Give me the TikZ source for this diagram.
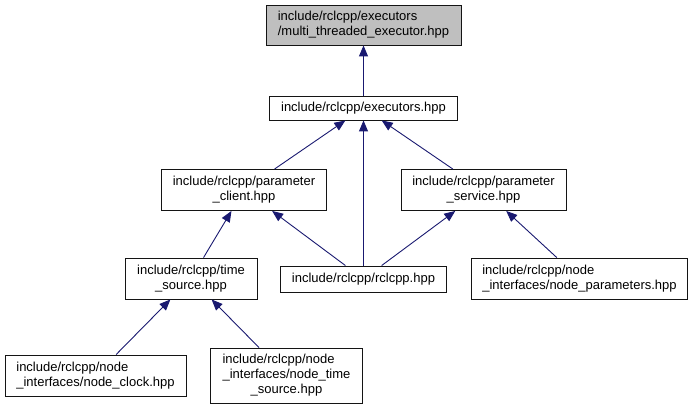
\documentclass[tikz,border=0pt]{standalone}
\usepackage{fontspec}
\setmainfont{Liberation Sans}
\usepackage{xcolor}
\usetikzlibrary{arrows.meta}
\definecolor{EdgeBlue}{RGB}{25,25,112}
\definecolor{RootGray}{RGB}{191,191,191}
\definecolor{BoxLine}{RGB}{20,20,20}
\tikzset{
  incbox/.style={draw=BoxLine, line width=0.9pt, fill=white, inner sep=0pt,
    font=\fontsize{13}{15}\selectfont, minimum height=41pt},
  incroot/.style={incbox, fill=RootGray},
  incedge/.style={-{Triangle[length=11pt,width=9pt]}, line width=0.9pt, draw=EdgeBlue}
}

\begin{document}
\begin{tikzpicture}[x=1pt,y=-1pt]
  \useasboundingbox (0,0) rectangle (691,409);
  % header and its direct includer
  \node[incroot,align=left,minimum width=195pt,minimum height=40pt] (multi) at (363.5,25)
    {include/rclcpp/executors\\/multi\_threaded\_executor.hpp};
  \node[incbox,minimum width=188pt,minimum height=24pt] (exec) at (363.5,108) {include/rclcpp/executors.hpp};
  % middle rows
  \node[incbox,align=center,minimum width=165pt] (pclient) at (244,190) {include/rclcpp/parameter\\\_client.hpp};
  \node[incbox,align=center,minimum width=165pt] (pservice) at (483.5,190) {include/rclcpp/parameter\\\_service.hpp};
  \node[incbox,align=center,minimum width=132pt] (tsrc) at (191,278.5) {include/rclcpp/time\\\_source.hpp};
  \node[incbox,minimum width=166pt,minimum height=26pt] (rclcpp) at (363.5,279) {include/rclcpp/rclcpp.hpp};
  \node[incbox,align=left,minimum width=216pt] (nparams) at (579.5,278.5)
    {include/rclcpp/node\\\_interfaces/node\_parameters.hpp};
  % bottom row
  \node[incbox,align=left,minimum width=181pt] (nclock) at (95.5,375.5)
    {include/rclcpp/node\\\_interfaces/node\_clock.hpp};
  \node[incbox,minimum width=152pt,minimum height=55pt] (ntsrc) at (286.5,375.5)
    {\begin{tabular}{@{}l@{}}include/rclcpp/node\\\_interfaces/node\_time\\\multicolumn{1}{@{}c@{}}{\_source.hpp}\end{tabular}};
  % include edges
  \draw[incedge] (exec) -- (multi);
  \draw[incedge] (pclient) -- (exec);
  \draw[incedge] (rclcpp) -- (exec);
  \draw[incedge] (pservice) -- (exec);
  \draw[incedge] (tsrc) -- (pclient);
  \draw[incedge] (rclcpp) -- (pclient);
  \draw[incedge] (rclcpp) -- (pservice);
  \draw[incedge] (nparams) -- (pservice);
  \draw[incedge] (nclock) -- (tsrc);
  \draw[incedge] (ntsrc) -- (tsrc);
\end{tikzpicture}
\end{document}
